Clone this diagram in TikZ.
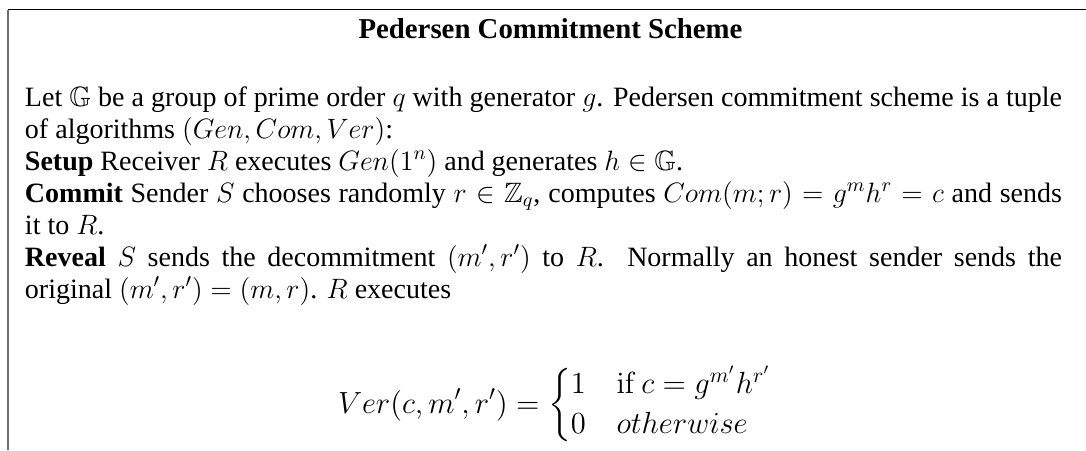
\RequirePackage{fix-cm}
\documentclass[tikz,border=0pt]{standalone}
\usepackage{amsmath,amssymb}
\usepackage[no-math]{fontspec}
\setmainfont{Liberation Serif}

\tikzset{
  txt/.style={inner sep=0pt, outer sep=0pt, anchor=base west,
    font=\fontsize{14pt}{16pt}\selectfont},
  heading/.style={txt, anchor=base, font=\fontsize{14.4pt}{17pt}\selectfont\bfseries},
  display/.style={txt, font=\fontsize{15.3pt}{16.7pt}\selectfont},
  toprule/.style={line width=0.7pt, black},
  siderule/.style={line width=0.8pt, black!57},
}
\newcommand{\fullline}[1]{\makebox[518.5pt][s]{#1}}

\begin{document}
\begin{tikzpicture}[x=0.5pt, y=-0.5pt]
  \useasboundingbox (0,0) rectangle (1086,450);
  \fill[white] (0,0) rectangle (1086,450);

  % frame: top edge and left edge, open to the right and below
  \coordinate (tl) at (7.8,9.7);
  \coordinate (tr) at (1086,9.7);
  \coordinate (bl) at (7.8,450);
  \draw[siderule] (tl) -- (bl);
  \draw[toprule] (tl) -- (tr);

  % heading
  \node[heading] (title) at (550.5,38.3) {Pedersen Commitment Scheme};

  % body, one node per printed line
  \node[txt] (l1) at (25,106) {\fullline{Let $\mathbb{G}$ be a group of prime order $q$ with generator $g$. Pedersen commitment scheme is a tuple}};
  \node[txt] (l2) at (25,138) {of algorithms $(Gen, Com, Ver)$:};
  \node[txt] (l3) at (25,170) {\textbf{Setup} Receiver $R$ executes $Gen(1^n)$ and generates $h \in \mathbb{G}$.};
  \node[txt] (l4) at (25,202) {\fullline{\textbf{Commit} Sender $S$ chooses randomly $r \in \mathbb{Z}_q$, computes $Com(m;r) = g^m h^r = c$ and sends}};
  \node[txt] (l5) at (25,234) {it to $R$.};
  \node[txt] (l6) at (25,266) {\fullline{\textbf{Reveal} $S$ sends the decommitment $(m', r')$ to $R$. Normally an honest sender sends the}};
  \node[txt] (l7) at (25,298) {original $(m', r') = (m, r)$. $R$ executes};

  % verification rule
  \node[display] (eq) at (338,413)
    {$\displaystyle Ver(c, m', r') = \begin{cases} 1 & \mathrm{if}\, c = g^{m'}h^{r'} \\ 0 & otherwise \end{cases}$};
\end{tikzpicture}
\end{document}
